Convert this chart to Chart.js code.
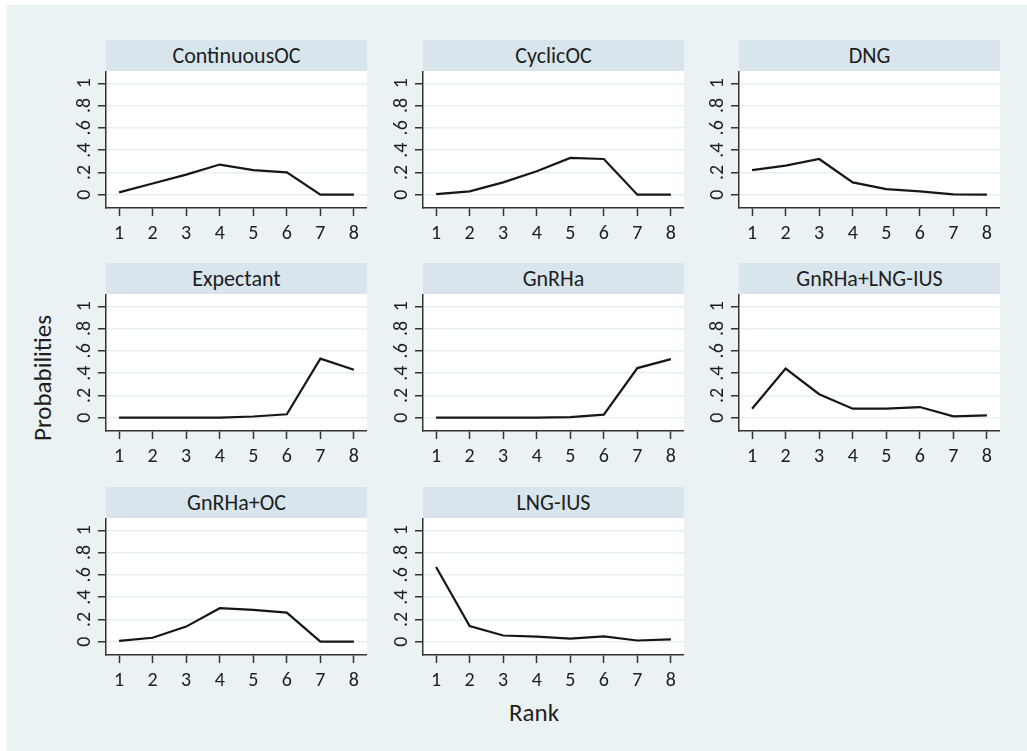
<!DOCTYPE html>
<html>
<head>
<meta charset="utf-8">
<script src="https://cdn.jsdelivr.net/npm/chart.js@4"></script>
<style>
  html, body { margin: 0; padding: 0; background: #fff; }
  body { width: 1027px; height: 751px; position: relative; overflow: hidden;
         font-family: Carlito, Lato, "Open Sans", sans-serif; color: #1e1e1e; }
  #bg { position: absolute; left: 7px; top: 5px; right: 0; bottom: 0; background: #eaf2f4; }
  .strip { position: absolute; background: #d8e5ec; text-align: center;
           font-size: 22px; line-height: 31px; height: 31px; color: #1e1e1e; }
  .panel { position: absolute; }
  #ytitle { position: absolute; left: 42px; top: 378px; font-size: 25px;
            transform: translate(-50%, -50%) rotate(-90deg); white-space: nowrap; }
  #xtitle { position: absolute; left: 534px; top: 712px; font-size: 25px;
            transform: translate(-50%, -50%); white-space: nowrap; }
</style>
</head>
<body>
<div id="bg"></div>
<div id="ytitle">Probabilities</div>
<div id="xtitle">Rank</div>
<script>
// ranks on the x axis
const ranks = [1, 2, 3, 4, 5, 6, 7, 8];
const yTickValues = [0, 0.2, 0.4, 0.6, 0.8, 1];
const yTickLabels = ['0', '.2', '.4', '.6', '.8', '1'];

const treatments = ['ContinuousOC', 'CyclicOC', 'DNG', 'Expectant', 'GnRHa',
                    'GnRHa+LNG-IUS', 'GnRHa+OC', 'LNG-IUS'];

// rank probabilities
const continuousOC = [0.02, 0.10, 0.18, 0.27, 0.22, 0.20, 0.00, 0.00];
const cyclicOC     = [0.005, 0.03, 0.11, 0.21, 0.33, 0.32, 0.00, 0.00];
const dng          = [0.22, 0.26, 0.32, 0.11, 0.05, 0.03, 0.002, 0.00];
const expectant    = [0.00, 0.00, 0.00, 0.00, 0.01, 0.03, 0.53, 0.43];
const gnrha        = [0.00, 0.00, 0.00, 0.00, 0.005, 0.027, 0.445, 0.525];
const gnrhaLngIus  = [0.08, 0.44, 0.21, 0.08, 0.08, 0.095, 0.012, 0.02];
const gnrhaOC      = [0.006, 0.035, 0.135, 0.30, 0.285, 0.26, 0.00, 0.00];
const lngIus       = [0.67, 0.14, 0.055, 0.045, 0.027, 0.048, 0.01, 0.02];

const seriesList = [continuousOC, cyclicOC, dng, expectant, gnrha, gnrhaLngIus, gnrhaOC, lngIus];

// layout of the 3x3 grid (plot area positions)
const colLeft = [106, 423, 739];
const headerTop = [40, 263, 487];
const plotW = 261, plotH = 137, headerH = 31;
const yAxisW = 60, xAxisH = 45;

const axisColor = '#333333';
const gridColor = '#e8eff2';
const textColor = '#1e1e1e';
const fontFamily = 'Carlito, Lato, "Open Sans", sans-serif';

const plotBg = {
    id: 'plotBg',
    beforeDraw(chart) {
        const { ctx, chartArea: a } = chart;
        ctx.save();
        ctx.fillStyle = '#ffffff';
        ctx.fillRect(a.left, a.top, a.right - a.left, a.bottom - a.top);
        ctx.restore();
    }
};

treatments.forEach((name, i) => {
    const col = i % 3, row = Math.floor(i / 3);
    const left = colLeft[col];
    const top = headerTop[row];

    const strip = document.createElement('div');
    strip.className = 'strip';
    strip.style.left = left + 'px';
    strip.style.top = top + 'px';
    strip.style.width = plotW + 'px';
    strip.textContent = name;
    document.body.appendChild(strip);

    const wrap = document.createElement('div');
    wrap.className = 'panel';
    wrap.style.left = (left - yAxisW) + 'px';
    wrap.style.top = (top + headerH) + 'px';
    wrap.style.width = (plotW + yAxisW) + 'px';
    wrap.style.height = (plotH + xAxisH) + 'px';
    const canvas = document.createElement('canvas');
    wrap.appendChild(canvas);
    document.body.appendChild(wrap);

    new Chart(canvas, {
        type: 'line',
        data: {
            datasets: [{
                data: ranks.map((r, k) => ({ x: r, y: seriesList[i][k] })),
                borderColor: '#161616',
                borderWidth: 2.2,
                pointRadius: 0,
                tension: 0,
                fill: false
            }]
        },
        options: {
            animation: false,
            responsive: true,
            maintainAspectRatio: false,
            layout: { padding: 0 },
            plugins: { legend: { display: false }, tooltip: { enabled: false } },
            scales: {
                x: {
                    type: 'linear',
                    min: 0.61,
                    max: 8.39,
                    afterBuildTicks: s => { s.ticks = ranks.map(v => ({ value: v })); },
                    afterFit: s => { s.height = xAxisH; s.paddingLeft = 0; s.paddingRight = 0; },
                    border: { display: true, color: axisColor, width: 1.5 },
                    grid: { drawOnChartArea: false, drawTicks: true, tickLength: 8, tickColor: axisColor, tickWidth: 1.5 },
                    ticks: { color: textColor, padding: 6, font: { family: fontFamily, size: 20 }, maxRotation: 0 }
                },
                y: {
                    min: -0.12,
                    max: 1.11,
                    afterBuildTicks: s => { s.ticks = yTickValues.map(v => ({ value: v })); },
                    afterFit: s => { s.width = yAxisW; s.paddingTop = 0; s.paddingBottom = 0; },
                    border: { display: true, color: axisColor, width: 1.5 },
                    grid: { color: gridColor, lineWidth: 1.5, drawTicks: true, tickLength: 8, tickColor: axisColor, tickWidth: 1.5 },
                    ticks: {
                        color: textColor,
                        padding: 5,
                        minRotation: 90,
                        maxRotation: 90,
                        crossAlign: 'center',
                        font: { family: fontFamily, size: 20 },
                        callback: (v) => {
                            const k = yTickValues.findIndex(t => Math.abs(t - v) < 1e-9);
                            return k >= 0 ? yTickLabels[k] : '';
                        }
                    }
                }
            }
        },
        plugins: [plotBg]
    });
});
</script>
</body>
</html>
